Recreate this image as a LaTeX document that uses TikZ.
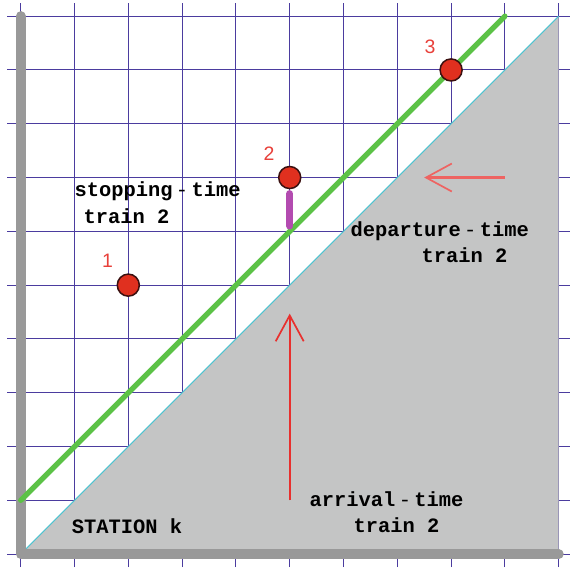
\documentclass[tikz,border=0pt]{standalone}
\usepackage{fontspec}
\newfontfamily\trainfont{Liberation Mono}
\newfontfamily\numfont{Liberation Sans}
\usepackage{xcolor}
\usepackage{tikz}
\usetikzlibrary{arrows.meta, positioning}

\definecolor{gridblue}{HTML}{4B3C9F}
\definecolor{axisgray}{HTML}{999999}
\definecolor{trigray}{HTML}{C4C5C5}
\definecolor{edgecyan}{HTML}{4EC3D0}
\definecolor{pathgreen}{HTML}{5CC246}
\definecolor{barmag}{HTML}{B34BB0}
\definecolor{dotred}{HTML}{E0301F}
\definecolor{dotrim}{HTML}{3A1010}
\definecolor{arrred}{HTML}{E8302E}
\definecolor{numred}{HTML}{E8403A}

\begin{document}
\begin{tikzpicture}[
  every node/.style = {inner sep=0pt, outer sep=0pt},
  gridline/.style = {gridblue, line width=0.55pt},
  axis/.style     = {axisgray, line width=5.3pt, line cap=round, line join=round},
  tri/.style      = {fill=trigray},
  edge/.style     = {edgecyan, line width=0.6pt},
  path/.style     = {pathgreen, line width=2.8pt, line cap=round},
  stopbar/.style  = {barmag, line width=3.8pt, line cap=round},
  dot/.style      = {circle, fill=dotred, draw=dotrim, line width=0.8pt,
                     minimum size=0.41cm},
  num/.style      = {font=\numfont\fontsize{10.3}{12}\selectfont, numred},
  txt/.style      = {font=\trainfont\bfseries\fontsize{10.8}{14}\selectfont,
                     anchor=base west},
  flow/.style     = {arrred, line width=1pt,
                     -{Straight Barb[length=4.8mm, width=5.2mm,
                                     line width=0.9pt 0]}},
]
\def\dsh{\,{\mdseries-}\,}

\useasboundingbox (-0.385,-0.279) rectangle (10.21,10.30);

% ── GRID ────────────────────────────────────────────────────────────────────
\foreach \i in {0,...,10} {
  \draw[gridline] (\i,-0.24) -- (\i,10.24);
  \draw[gridline] (-0.25,\i) -- (10.21,\i);
}

% ── TIME TRIANGLE ───────────────────────────────────────────────────────────
\coordinate (O)  at (0,0);
\coordinate (TR) at (10,10);
\coordinate (BR) at (10,0);
\fill[tri] (O) -- (TR) -- (BR) -- cycle;
\draw[edge] (O) -- (TR);

% axes
\coordinate (YT) at (0,10);
\draw[axis] (YT) -- (O) -- (BR);

% train path
\coordinate (P0) at (0,1);
\coordinate (P1) at (9,10);
\draw[path] (P0) -- (P1);

% ── STOPS ───────────────────────────────────────────────────────────────────
\coordinate (g2) at (5,6);
\node[dot] at (2,5) (c1) {};
\node[dot] at (5,7) (c2) {};
\node[dot] at (8,9) (c3) {};
\draw[stopbar] ([yshift=-0.095cm]c2.south) -- ([yshift=0.1cm]g2);

\node[num] at (1.615,5.445) (n1) {1};
\node[num] at (4.615,7.448) (n2) {2};
\node[num] at (7.608,9.430) (n3) {3};

% ── ARROWS ──────────────────────────────────────────────────────────────────
\coordinate (dpt) at (9,7);
\coordinate (dph) at (7.5,7);
\draw[flow, line width=1.4pt, arrred!75] (dpt) -- (dph);

\coordinate (art) at (5,1);
\coordinate (arh) at (5,4.47);
\draw[flow] (art) -- (arh);

% ── TEXT ────────────────────────────────────────────────────────────────────
\node[txt] at (1.00,6.654) (stopA) {stopping\dsh time};
\node[txt] at (1.17,6.140) (stopB) {train 2};

\node[txt] at (6.13,5.910) (depA) {departure\dsh time};
\node[txt] at (7.45,5.418) (depB) {train 2};

\node[txt] at (5.37,0.892) (arrA) {arrival\dsh time};
\node[txt] at (6.19,0.400) (arrB) {train 2};

\node[txt] at (0.95,0.380) (stat) {STATION k};

\end{tikzpicture}
\end{document}
